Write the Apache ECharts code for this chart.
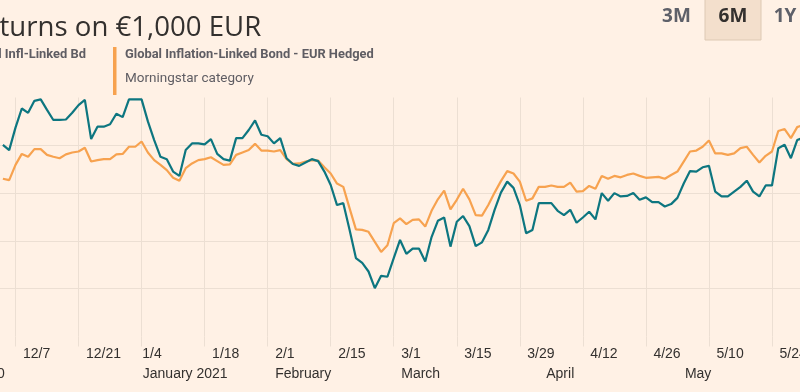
<!DOCTYPE html>
<html>
<head>
<meta charset="utf-8">
<script src="https://cdn.jsdelivr.net/npm/echarts@6/dist/echarts.min.js"></script>
<style>
html,body{margin:0;padding:0;background:#FFF1E5;}
#chart{width:800px;height:392px;}
</style>
</head>
<body>
<div id="chart"></div>
<script>
// Trading-day index of the first value (0 = Mon 7 Dec 2020)
const firstIndex = -2;

// Fund: Global Infl-Linked Bd (teal), value of €1,000
const fundValues = [
  1030.1,1029.0,1033.7,1037.7,1036.8,1039.3,1039.6,1037.4,1035.3,1035.3,
  1035.4,1036.8,1038.4,1039.5,1031.3,1033.9,1033.9,1034.4,1036.6,1035.9,
  1039.6,1039.6,1039.6,1035.0,1031.1,1027.6,1027.1,1024.5,1023.6,1029.0,
  1030.4,1030.4,1030.2,1031.3,1028.2,1027.1,1026.8,1031.5,1031.5,1033.2,
  1035.2,1032.2,1031.9,1030.4,1031.5,1027.3,1026.1,1025.7,1026.4,1027.1,
  1026.7,1024.5,1021.7,1017.5,1017.9,1012.3,1006.4,1005.4,1003.6,1000.1,
  1002.7,1002.5,1006.4,1010.2,1007.3,1008.4,1008.4,1005.7,1010.8,1014.2,
  1014.9,1008.8,1014.0,1015.2,1013.1,1008.9,1009.7,1012.3,1016.5,1020.1,
  1022.4,1021.1,1017.5,1011.6,1012.3,1017.9,1017.9,1017.9,1016.3,1015.4,
  1016.5,1013.8,1014.9,1016.1,1014.5,1020.0,1018.4,1020.0,1019.3,1019.4,
  1020.0,1018.6,1019.1,1018.1,1018.1,1017.2,1017.7,1019.0,1022.0,1024.6,
  1024.5,1025.4,1025.7,1020.3,1019.3,1019.3,1020.3,1021.3,1022.6,1020.3,
  1019.3,1021.6,1021.6,1029.4,1030.1,1027.3,1031.1,1031.6
];

// Morningstar category: Global Inflation-Linked Bond - EUR Hedged (orange)
const categoryValues = [
  1023.0,1022.7,1025.9,1028.2,1027.6,1029.2,1029.2,1028.0,1027.6,1027.3,
  1028.1,1028.5,1028.7,1029.5,1026.6,1026.9,1027.1,1027.1,1028.1,1028.2,
  1029.7,1029.7,1030.8,1028.5,1026.9,1025.9,1024.8,1023.2,1022.6,1025.2,
  1026.2,1026.9,1027.1,1027.5,1026.7,1025.9,1026.0,1028.0,1028.5,1029.0,
  1030.3,1028.9,1028.9,1028.7,1029.0,1027.1,1026.1,1026.2,1026.6,1026.9,
  1026.8,1025.4,1024.1,1022.0,1021.3,1016.8,1012.4,1012.3,1011.9,1009.8,
  1007.7,1009.1,1013.7,1014.7,1013.5,1014.4,1014.5,1013.0,1016.3,1018.7,
  1020.5,1016.6,1018.6,1020.9,1018.7,1015.4,1015.3,1017.5,1020.1,1022.5,
  1024.6,1024.1,1022.4,1018.4,1018.9,1021.3,1021.3,1021.6,1021.3,1021.3,
  1022.2,1020.3,1020.4,1021.5,1020.9,1023.6,1023.0,1023.6,1023.3,1023.8,
  1024.1,1023.6,1023.2,1023.3,1023.4,1023.0,1023.8,1024.5,1026.6,1028.7,
  1028.9,1029.7,1031.0,1028.3,1028.3,1028.0,1028.3,1029.4,1029.7,1028.0,
  1026.4,1027.8,1028.7,1033.0,1033.4,1031.5,1033.8,1034.3
];

// Fortnightly tick labels, from trading-day index -20 every 10 days
const tickStart = -20;
const tickLabels = ['11/9','11/23','12/7','12/21','1/4','1/18','2/1','2/15','3/1','3/15','3/29','4/12','4/26','5/10','5/24','6/7'];

// Month labels at trading-day index
const monthIndex  = [-18.7, 19, 40, 60, 83, 105];
const monthLabels = ['December 2020','January 2021','February','March','April','May'];

const seriesNames = ['Global Infl-Linked Bd', 'Global Inflation-Linked Bond - EUR Hedged'];

const toPairs = vals => vals.map((v, k) => [firstIndex + k, v]);

const chart = echarts.init(document.getElementById('chart'), null, {renderer: 'canvas'});

const gridColor = '#ecdfd3';
const textColor = '#33302e';
const pxPerDay = 6.304;
const firstGridX = 15.5;
const labelFont = 'Liberation Sans, Arial, sans-serif';

chart.setOption({
  backgroundColor: '#FFF1E5',
  animation: false,
  grid: {
    left: firstGridX + tickStart * pxPerDay,
    width: 150 * pxPerDay,
    top: 97.5,
    bottom: 55.5,
    containLabel: false,
    outerBoundsMode: 'none'
  },
  xAxis: [{
    type: 'value',
    min: tickStart,
    max: 130,
    interval: 10,
    position: 'bottom',
    axisLine: {show: false},
    axisTick: {show: true, length: 10, lineStyle: {color: gridColor, width: 1}},
    splitLine: {show: true, lineStyle: {color: gridColor, width: 1}},
    axisLabel: {
      show: true,
      align: 'left',
      verticalAlign: 'middle',
      margin: 17.7,
      fontFamily: labelFont,
      fontSize: 14,
      color: textColor,
      hideOverlap: false,
      showMinLabel: true,
      showMaxLabel: true,
      formatter: function (v) {
        const k = Math.round((v - tickStart) / 10);
        const t = tickLabels[k] || '';
        return t === '1/4' ? '{n|' + t + '}' : '{d|' + t + '}';
      },
      rich: {
        d: {padding: [0, 0, 0, 7.5], fontSize: 14, color: textColor, fontFamily: labelFont},
        n: {padding: [0, 0, 0, 0.7], fontSize: 14, color: textColor, fontFamily: labelFont}
      }
    }
  }, {
    type: 'value',
    min: tickStart,
    max: 130,
    position: 'bottom',
    axisLine: {show: false},
    axisTick: {show: false},
    splitLine: {show: false},
    axisLabel: {
      show: true,
      customValues: monthIndex,
      align: 'left',
      verticalAlign: 'middle',
      margin: 37.2,
      fontFamily: labelFont,
      fontSize: 14,
      color: textColor,
      hideOverlap: false,
      showMinLabel: true,
      showMaxLabel: true,
      formatter: function (v) {
        const k = monthIndex.findIndex(m => Math.abs(m - v) < 1e-6);
        return k >= 0 ? '{d|' + monthLabels[k] + '}' : '';
      },
      rich: {
        d: {padding: [0, 0, 0, 7.5], fontSize: 14, color: textColor, fontFamily: labelFont}
      }
    }
  }],
  yAxis: {
    type: 'value',
    min: 990,
    max: 1040,
    interval: 10,
    position: 'right',
    axisLine: {show: false},
    axisTick: {show: false},
    axisLabel: {show: true, color: textColor, fontSize: 14},
    splitLine: {show: true, showMinLine: false, showMaxLine: false, lineStyle: {color: gridColor, width: 1}}
  },
  series: [{
    name: seriesNames[1],
    type: 'line',
    xAxisIndex: 0,
    data: toPairs(categoryValues),
    showSymbol: false,
    symbol: 'none',
    clip: false,
    lineStyle: {color: '#f7a24f', width: 2.2},
    itemStyle: {color: '#f7a24f'},
    z: 2
  }, {
    name: seriesNames[0],
    type: 'line',
    xAxisIndex: 0,
    data: toPairs(fundValues),
    showSymbol: false,
    symbol: 'none',
    clip: false,
    lineStyle: {color: '#0d7680', width: 2.2},
    itemStyle: {color: '#0d7680'},
    z: 3
  }],
  graphic: [
    {type: 'text', left: -33, top: 14, style: {text: 'Returns on €1,000 EUR', font: '27.6px "Open Sans", sans-serif', fill: textColor}},
    {type: 'text', style: {x: 86, y: 55, text: seriesNames[0], font: 'bold 12.9px Roboto, sans-serif', fill: '#5f5d63', align: 'right', verticalAlign: 'middle'}},
    {type: 'rect', shape: {x: 113, y: 47, width: 3.5, height: 48}, style: {fill: '#f7a24f'}},
    {type: 'text', style: {x: 125, y: 55, text: seriesNames[1], font: 'bold 12.9px Roboto, sans-serif', fill: '#5f5d63', verticalAlign: 'middle'}},
    {type: 'text', style: {x: 125, y: 79, text: 'Morningstar category', font: '13.5px Roboto, sans-serif', fill: '#5f5d63', verticalAlign: 'middle'}},
    {type: 'rect', shape: {x: 705, y: -1, width: 56, height: 41}, style: {fill: '#f3dfcc', stroke: '#ddc9b4', lineWidth: 1}},
    {type: 'text', style: {x: 676.5, y: 17, text: '3M', font: 'bold 19px "Open Sans", sans-serif', fill: '#5e6069', align: 'center', verticalAlign: 'middle'}},
    {type: 'text', style: {x: 733, y: 17, text: '6M', font: 'bold 19px "Open Sans", sans-serif', fill: textColor, align: 'center', verticalAlign: 'middle'}},
    {type: 'text', style: {x: 785, y: 17, text: '1Y', font: 'bold 19px "Open Sans", sans-serif', fill: '#5e6069', align: 'center', verticalAlign: 'middle'}}
  ]
});
</script>
</body>
</html>
